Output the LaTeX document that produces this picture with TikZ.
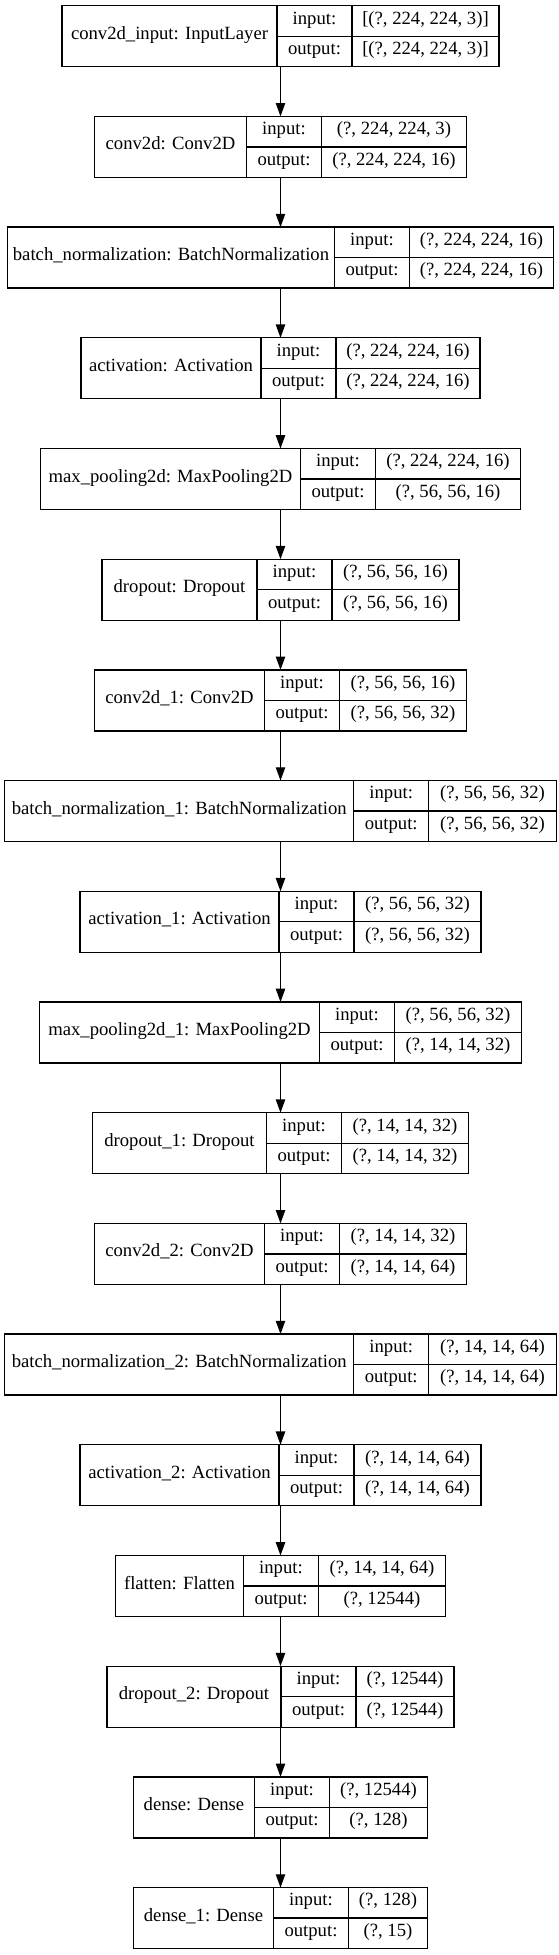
\documentclass[tikz,border=0pt]{standalone}
\usepackage{fontspec}
\setmainfont{Liberation Serif}
\usetikzlibrary{arrows.meta}

\begin{document}
\begin{tikzpicture}[x=0.75pt,y=-0.75pt,
  cell/.style={draw,line width=1pt,inner sep=0pt,outer sep=0pt,
    font=\fontsize{14pt}{16pt}\selectfont,text height=0.68em,text depth=0.22em},
  namecell/.style={cell,minimum height=45.75pt},
  iocell/.style={cell,minimum height=22.875pt,minimum width=56.25pt},
  layerbox/.style={inner sep=0pt,outer sep=0pt,minimum height=45.75pt},
  flow/.style={line width=1pt,-{Triangle[length=10pt,width=7pt]}}]
  \useasboundingbox (0,0) rectangle (559,1955);
  \def\cx{280.5}
  % One record per layer: name | input:/output: | shapes.
  \foreach \i/\nw/\vw/\nm/\shin/\shout in {
    1/215/147/{conv2d\_input: InputLayer}/{[(?, 224, 224, 3)]}/{[(?, 224, 224, 3)]},
    2/152/145/{conv2d: Conv2D}/{(?, 224, 224, 3)}/{(?, 224, 224, 16)},
    3/327/144/{batch\_normalization: BatchNormalization}/{(?, 224, 224, 16)}/{(?, 224, 224, 16)},
    4/180/144/{activation: Activation}/{(?, 224, 224, 16)}/{(?, 224, 224, 16)},
    5/260/145/{max\_pooling2d: MaxPooling2D}/{(?, 224, 224, 16)}/{(?, 56, 56, 16)},
    6/155/127/{dropout: Dropout}/{(?, 56, 56, 16)}/{(?, 56, 56, 16)},
    7/170/127/{conv2d\_1: Conv2D}/{(?, 56, 56, 16)}/{(?, 56, 56, 32)},
    8/349/127.6/{batch\_normalization\_1: BatchNormalization}/{(?, 56, 56, 32)}/{(?, 56, 56, 32)},
    9/199/127/{activation\_1: Activation}/{(?, 56, 56, 32)}/{(?, 56, 56, 32)},
    10/280/127/{max\_pooling2d\_1: MaxPooling2D}/{(?, 56, 56, 32)}/{(?, 14, 14, 32)},
    11/174/127/{dropout\_1: Dropout}/{(?, 14, 14, 32)}/{(?, 14, 14, 32)},
    12/170/127/{conv2d\_2: Conv2D}/{(?, 14, 14, 32)}/{(?, 14, 14, 64)},
    13/349/127.6/{batch\_normalization\_2: BatchNormalization}/{(?, 14, 14, 64)}/{(?, 14, 14, 64)},
    14/199/127/{activation\_2: Activation}/{(?, 14, 14, 64)}/{(?, 14, 14, 64)},
    15/128/127/{flatten: Flatten}/{(?, 14, 14, 64)}/{(?, 12544)},
    16/174/98/{dropout\_2: Dropout}/{(?, 12544)}/{(?, 12544)},
    17/121/98/{dense: Dense}/{(?, 12544)}/{(?, 128)},
    18/140/79/{dense\_1: Dense}/{(?, 128)}/{(?, 15)}} {
    \pgfmathsetmacro{\t}{5.7+(\i-1)*110.7}
    \pgfmathsetmacro{\xl}{\cx-(\nw+75+\vw)/2}
    \node[layerbox,minimum width={(\nw+75+\vw)*0.75pt}] (B\i) at (\cx,\t+30.5) {};
    \node[namecell,minimum width={\nw*0.75pt}] (N\i) at (\xl+\nw/2,\t+30.5) {\nm};
    \node[iocell] (I\i) at (\xl+\nw+37.5,\t+15.25) {input:};
    \node[iocell] (O\i) at (\xl+\nw+37.5,\t+45.75) {output:};
    \node[iocell,minimum width={\vw*0.75pt}] (SI\i) at (\xl+\nw+75+\vw/2,\t+15.25) {\shin};
    \node[iocell,minimum width={\vw*0.75pt}] (SO\i) at (\xl+\nw+75+\vw/2,\t+45.75) {\shout};
  }
  % Data flow between consecutive layers.
  \foreach \i [evaluate=\i as \j using int(\i+1)] in {1,...,17}
    \draw[flow] (B\i) -- (B\j);
\end{tikzpicture}
\end{document}
